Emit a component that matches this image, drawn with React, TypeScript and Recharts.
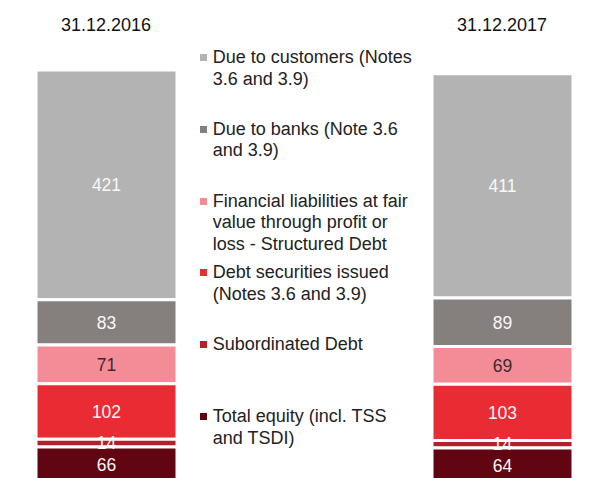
import React from 'react';
import { BarChart, Bar, XAxis, YAxis, LabelList } from 'recharts';

const dates = ['31.12.2016', '31.12.2017'];
const customers = [421, 411];
const banks = [83, 89];
const structuredDebt = [71, 69];
const debtSecurities = [102, 103];
const subordinated = [14, 14];
const equity = [66, 64];

// top of the stack first; reverseStackOrder puts the last one at the bottom
const series = [
  { key: 'customers', name: 'Due to customers (Notes\n3.6 and 3.9)', color: '#b4b3b3', text: '#fbf7f7', values: customers },
  { key: 'banks', name: 'Due to banks (Note 3.6\nand 3.9)', color: '#857f7e', text: '#fbf7f7', values: banks },
  { key: 'structured', name: 'Financial liabilities at fair\nvalue through profit or\nloss - Structured Debt', color: '#f48c98', text: '#3b2b2d', values: structuredDebt },
  { key: 'debt', name: 'Debt securities issued\n(Notes 3.6 and 3.9)', color: '#e92b33', text: '#fbf7f7', values: debtSecurities },
  { key: 'subordinated', name: 'Subordinated Debt', color: '#b51f2d', text: '#fbf7f7', values: subordinated },
  { key: 'equity', name: 'Total equity (incl. TSS\nand TSDI)', color: '#600511', text: '#fbf7f7', values: equity },
];

// empty middle slot leaves room for the legend between the two bars
const buildRow = (i: number) => {
  const row: Record<string, any> = { date: dates[i] };
  series.forEach(s => { row[s.key] = s.values[i]; });
  return row;
};
const data = [buildRow(0), { date: '' }, buildRow(1)];

const FONT = '"Liberation Sans", Arial, Helvetica, sans-serif';

const DateTick = ({ x, payload }: any) => (
  <text x={x} y={31} textAnchor="middle" fontSize={18} fill="#111" fontFamily={FONT}>
    {payload.value}
  </text>
);

export default function App() {
  return (
    <div style={{ position: 'absolute', left: 0, top: 0, width: 596, height: 478, overflow: 'hidden', background: '#fff', fontFamily: FONT }}>
      <BarChart
        width={601}
        height={490}
        data={data}
        margin={{ top: 0, right: 0, left: 7, bottom: 7 }}
        reverseStackOrder
      >
        <XAxis dataKey="date" orientation="top" height={70} axisLine={false} tickLine={false} interval={0} tick={<DateTick />} />
        <YAxis hide domain={[0, 757]} allowDataOverflow />
        {series.map(s => (
          <Bar key={s.key} dataKey={s.key} name={s.name} stackId="a" fill={s.color} stroke="#fff" strokeWidth={3} barSize={141} isAnimationActive={false}>
            <LabelList dataKey={s.key} position="center" fill={s.text} fontSize={17.5} fontFamily={FONT} />
          </Bar>
        ))}
      </BarChart>

      {/* legend in the gap between the bars */}
      <div style={{ position: 'absolute', left: 200, top: 0 }}>
        {series.map((s, i) => (
          <div key={s.key} style={{ position: 'absolute', top: 47 + i * 71.8, left: 0, width: 240 }}>
            <span style={{ position: 'absolute', left: 0, top: 7, width: 7, height: 7, background: s.color }} />
            <div style={{ marginLeft: 12.7, fontSize: 18, lineHeight: '21.5px', color: '#222', whiteSpace: 'pre-line' }}>
              {s.name}
            </div>
          </div>
        ))}
      </div>
    </div>
  );
}
